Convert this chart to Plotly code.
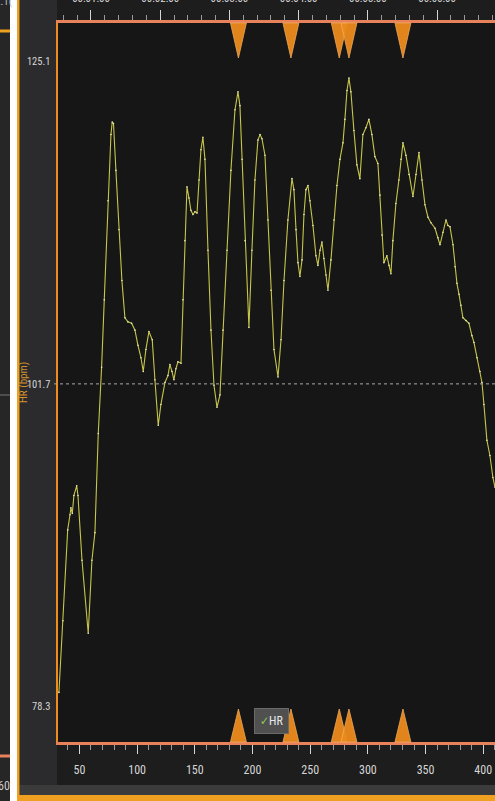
import plotly.graph_objects as go

# ---------------- data ----------------
time_s = [32.2, 35.7, 39.8, 41.8, 42.6, 43.8, 45.2, 47.6, 48.7, 52.2,
          57.6, 60.8, 63.4, 66.3, 69.2, 71.5, 74.7, 77.3, 78.4, 79.5,
          81.6, 84.2, 86.8, 89.4, 92.0, 95.2, 98.1, 100.7, 103.3, 105.3,
          107.6, 110.2, 113.1, 115.4, 118.3, 120.6, 124.1, 126.7, 128.4, 130.2,
          131.9, 133.6, 135.4, 138.0, 139.7, 141.4, 143.2, 144.9, 146.6, 148.4,
          150.1, 151.9, 153.6, 155.3, 157.0, 158.8, 161.4, 164.0, 166.6, 169.2,
          171.8, 174.4, 177.9, 181.3, 184.8, 187.4, 189.1, 190.9, 193.5, 196.9,
          199.5, 202.1, 204.7, 206.5, 208.2, 210.8, 213.4, 216.0, 218.6, 222.1,
          224.7, 227.3, 230.7, 234.2, 235.9, 237.7, 239.4, 241.1, 242.9, 244.6,
          246.3, 248.1, 249.8, 252.4, 255.0, 256.7, 258.5, 260.2, 261.9, 263.7,
          265.4, 268.0, 270.6, 273.2, 275.8, 278.4, 280.1, 281.9, 283.6, 285.3,
          287.9, 290.5, 293.1, 295.7, 298.3, 300.9, 303.5, 306.1, 308.7, 310.5,
          312.2, 313.9, 316.5, 318.3, 320.0, 321.7, 324.3, 326.9, 328.7, 330.4,
          333.0, 335.6, 339.1, 341.7, 344.3, 346.9, 349.5, 352.1, 354.7, 358.2,
          360.8, 362.5, 365.1, 367.7, 369.4, 371.2, 373.8, 375.5, 377.2, 379.0,
          380.7, 382.4, 385.0, 387.6, 390.2, 392.0, 394.6, 397.2, 398.9, 400.6,
          403.2, 405.8, 408.4, 410.2]

hr_bpm = [79.3, 84.5, 91.1, 92.2, 92.7, 92.3, 93.6, 94.3, 93.6, 88.9,
          83.6, 88.9, 90.9, 98.1, 102.9, 107.8, 115.0, 119.8, 120.7, 120.6,
          117.2, 112.9, 109.2, 106.5, 106.2, 106.1, 105.6, 104.5, 103.6, 102.6,
          104.2, 105.5, 104.9, 102.0, 98.7, 100.2, 101.8, 102.3, 103.1, 102.6,
          102.0, 102.8, 103.3, 103.2, 107.8, 112.1, 116.0, 115.2, 114.3, 114.0,
          114.2, 114.1, 116.5, 118.7, 119.6, 118.0, 111.4, 105.6, 101.6, 100.0,
          100.9, 105.6, 111.4, 117.2, 121.6, 122.9, 121.9, 118.0, 112.1, 105.8,
          111.4, 116.5, 119.4, 119.8, 119.5, 118.3, 113.6, 108.5, 104.2, 102.2,
          104.9, 109.2, 113.6, 116.6, 115.8, 112.9, 110.5, 109.5, 110.7, 114.0,
          115.8, 116.1, 115.0, 113.2, 111.0, 110.3, 111.4, 112.0, 110.8, 109.6,
          108.5, 110.7, 113.6, 116.1, 118.0, 119.2, 120.9, 123.0, 123.9, 122.9,
          120.1, 117.6, 116.6, 119.8, 120.3, 120.9, 119.8, 118.2, 117.7, 115.4,
          112.5, 110.5, 111.0, 110.3, 109.7, 112.1, 114.8, 116.5, 118.0, 119.2,
          118.3, 116.9, 115.3, 116.9, 118.5, 116.5, 114.7, 113.8, 113.4, 113.0,
          112.3, 111.8, 112.7, 113.6, 113.2, 113.1, 111.8, 110.2, 109.0, 108.2,
          107.4, 106.5, 106.3, 106.1, 105.2, 104.7, 103.6, 102.6, 101.8, 100.2,
          97.6, 96.5, 94.9, 94.2]

event_times = [187.8, 233.3, 275.2, 283.6, 330.4]

x_ticks = [50, 100, 150, 200, 250, 300, 350, 400]
y_ticks = [78.3, 101.7, 125.1]
y_tick_labels = ["78.3", "101.7", "125.1"]
top_ticks = [60, 120, 180, 240, 300, 360, 420]
top_tick_labels = ["00:01:00", "00:02:00", "00:03:00", "00:04:00",
                   "00:05:00", "00:06:00", "00:07:00"]
mid_value = 101.7

X_RANGE = [31.4, 410.2]
Y_RANGE = [75.7, 127.9]

# ---------------- style ----------------
W, H = 495, 801
ML, MR, MT, MB = 58, 0, 23, 59
PW, PH = W - ML - MR, H - MT - MB


def px(xp):  # pixel -> paper x
    return (xp - ML) / PW


def py(yp):  # pixel -> paper y
    return (H - MB - yp) / PH


ORANGE = "#f0a020"
AXIS_ORANGE = "#f08c1a"
SALMON = "#e8825a"
TICK_COL = "#d6d6d6"
NARROW = "Liberation Sans Narrow, Roboto Condensed, DejaVu Sans Condensed, Roboto, sans-serif"

fig = go.Figure()

fig.add_trace(go.Scatter(
    x=time_s, y=hr_bpm, mode="lines+markers",
    line=dict(color="#c6c64a", width=1.1),
    marker=dict(size=1.6, color="#ecebc4"),
    hoverinfo="skip", showlegend=False))

# empty trace so the top axis is drawn
fig.add_trace(go.Scatter(x=[], y=[], xaxis="x2", yaxis="y",
                         showlegend=False, hoverinfo="skip"))

shapes = []
# background panels (margins)
shapes.append(dict(type="rect", xref="paper", yref="paper", layer="below",
                   x0=px(0), x1=px(10), y0=py(H), y1=py(0),
                   fillcolor="#262626", line=dict(width=0)))
shapes.append(dict(type="rect", xref="paper", yref="paper", layer="below",
                   x0=px(10), x1=px(17), y0=py(H), y1=py(0),
                   fillcolor="#ffffff", line=dict(width=0)))
shapes.append(dict(type="rect", xref="paper", yref="paper", layer="below",
                   x0=px(19.5), x1=px(57), y0=py(H), y1=py(0),
                   fillcolor="#2b2b2d", line=dict(width=0)))
shapes.append(dict(type="rect", xref="paper", yref="paper", layer="below",
                   x0=px(19.5), x1=1, y0=py(795), y1=py(785),
                   fillcolor="#3b3b3b", line=dict(width=0)))
shapes.append(dict(type="rect", xref="paper", yref="paper", layer="below",
                   x0=px(17), x1=1, y0=py(H), y1=py(795),
                   fillcolor=ORANGE, line=dict(width=0)))
shapes.append(dict(type="rect", xref="paper", yref="paper", layer="below",
                   x0=px(17), x1=px(19.5), y0=py(H), y1=py(0),
                   fillcolor=ORANGE, line=dict(width=0)))
# neighbouring panel fragments on the far left
shapes.append(dict(type="line", xref="paper", yref="paper", layer="below",
                   x0=px(0), x1=px(10), y0=py(31), y1=py(31),
                   line=dict(color=ORANGE, width=3)))
shapes.append(dict(type="line", xref="paper", yref="paper", layer="below",
                   x0=px(0), x1=px(10), y0=py(756), y1=py(756),
                   line=dict(color=SALMON, width=3)))
shapes.append(dict(type="line", xref="paper", yref="paper", layer="below",
                   x0=px(0), x1=px(10), y0=py(395), y1=py(395),
                   line=dict(color="#777777", width=1)))

# reference line at the mid value
shapes.append(dict(type="line", xref="paper", yref="y",
                   x0=px(54), x1=1, y0=mid_value, y1=mid_value,
                   line=dict(color="#a8a8a8", width=1, dash="dot")))

# event triangles (top pointing down, bottom pointing up)
half_w = 6.9
for t in event_times:
    shapes.append(dict(
        type="path", xref="x", yref="paper",
        path=f"M {t - half_w},1 L {t + half_w},1 L {t},{py(58)} Z",
        fillcolor="#ec8a1c", line=dict(color="#f7b060", width=0.8), opacity=0.95))
    shapes.append(dict(
        type="path", xref="x", yref="paper",
        path=f"M {t - half_w},0 L {t + half_w},0 L {t},{py(709)} Z",
        fillcolor="#ec8a1c", line=dict(color="#f7b060", width=0.8), opacity=0.95))

annotations = [
    dict(text="HR (bpm)", textangle=-90, xref="paper", yref="paper",
         x=px(23), y=py(383), xanchor="center", yanchor="middle", showarrow=False,
         font=dict(family=NARROW, size=11, color="#d4922c")),
    dict(text="<span style='color:#8fd14f'>✓</span>HR", xref="paper", yref="paper",
         x=px(271), y=py(721), xanchor="center", yanchor="middle", showarrow=False,
         bgcolor="#505050", bordercolor="#6a6a6a", borderwidth=1, borderpad=5,
         font=dict(family=NARROW, size=12, color="#e8e8e8")),
    dict(text="60", xref="paper", yref="paper", x=px(4), y=py(786),
         xanchor="center", yanchor="middle",
         showarrow=False, font=dict(family=NARROW, size=12, color="#cccccc")),
    dict(text="2.1(", xref="paper", yref="paper", x=px(4), y=py(2),
         xanchor="center", yanchor="middle",
         showarrow=False, font=dict(family=NARROW, size=11, color="#bbbbbb")),
]

fig.update_layout(
    width=W, height=H,
    margin=dict(l=ML, r=MR, t=MT, b=MB, pad=0),
    paper_bgcolor="#1d1d1d",
    plot_bgcolor="#161616",
    showlegend=False,
    shapes=shapes,
    annotations=annotations,
    xaxis=dict(
        range=X_RANGE, tickvals=x_ticks, ticks="outside", ticklen=9,
        tickcolor=TICK_COL, tickwidth=1, showgrid=False, zeroline=False,
        showline=True, linecolor=SALMON, linewidth=3,
        ticklabelstandoff=6,
        tickfont=dict(family=NARROW, size=12, color=TICK_COL),
        minor=dict(ticks="outside", ticklen=5, tickcolor="#9a9a9a", dtick=10,
                   tick0=0, showgrid=False),
        fixedrange=True, automargin=False),
    xaxis2=dict(
        range=X_RANGE, overlaying="x", side="top", anchor="y",
        tickvals=top_ticks, ticktext=top_tick_labels,
        ticks="outside", ticklen=10, tickcolor=TICK_COL, tickwidth=1,
        showgrid=False, zeroline=False,
        showline=True, linecolor=SALMON, linewidth=3,
        ticklabelstandoff=4,
        tickfont=dict(family=NARROW, size=11, color=TICK_COL),
        minor=dict(ticks="outside", ticklen=5, tickcolor="#9a9a9a", dtick=12,
                   tick0=0, showgrid=False),
        automargin=False),
    yaxis=dict(
        range=Y_RANGE, tickvals=y_ticks, ticktext=y_tick_labels,
        ticks="", showgrid=False, zeroline=False,
        showline=True, linecolor=AXIS_ORANGE, linewidth=2.5,
        ticklabelstandoff=3,
        tickfont=dict(family=NARROW, size=10.5, color=TICK_COL),
        automargin=False),
)

fig.write_html("out.html",
               config={"displayModeBar": False, "staticPlot": True},
               post_script="document.body.style.margin='0';document.body.style.overflow='hidden';")
